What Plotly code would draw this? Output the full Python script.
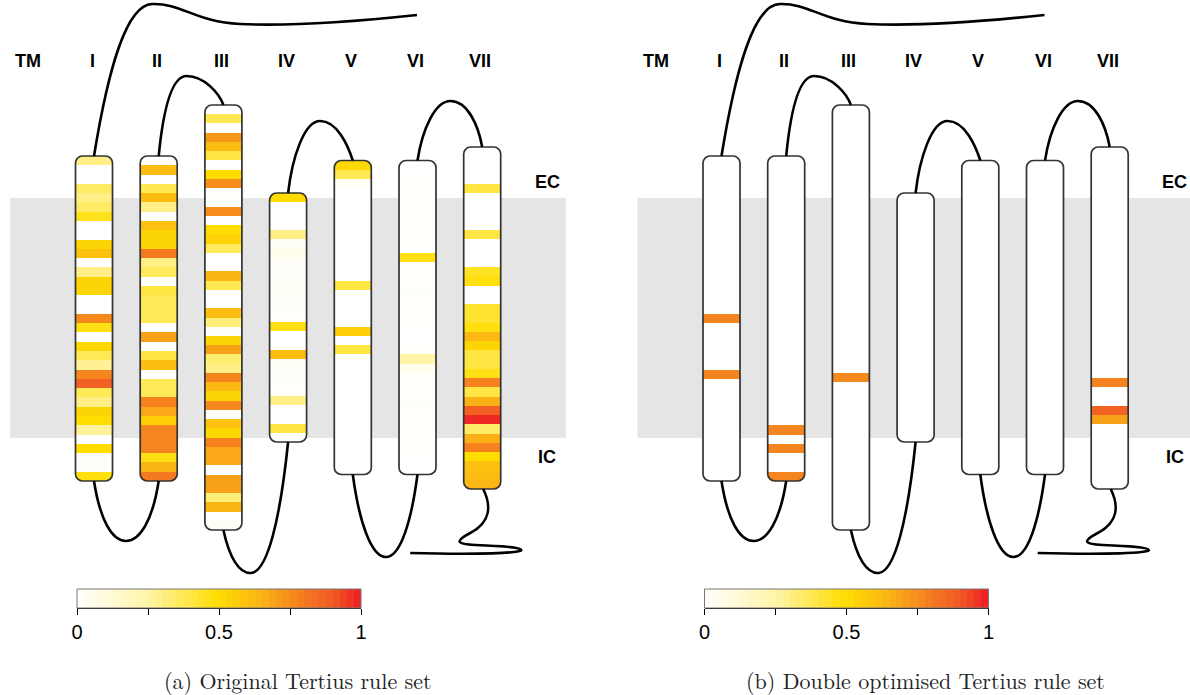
import numpy as np
import plotly.graph_objects as go

# ---------------- data ----------------
helix_names = ["I", "II", "III", "IV", "V", "VI", "VII"]

# (a) Original Tertius rule set: per-residue values, top to bottom
orig_I = [0.30, 0, 0, 0.35, 0.30, 0.35, 0.46, 0, 0, 0.53, 0.60, 0, 0.30, 0.53, 0.53, 0, 0,
          0.76, 0.47, 0, 0.52, 0.37, 0.28, 0.77, 0.88, 0.37, 0.30, 0.53, 0.50, 0.27, 0, 0.50,
          0.02, 0.02, 0.48]
orig_II = [0, 0.62, 0, 0.38, 0.62, 0.30, 0, 0.60, 0.53, 0.53, 0.80, 0.30, 0.36, 0, 0.40, 0.37,
           0.37, 0.37, 0, 0.70, 0, 0.40, 0.62, 0, 0.37, 0.37, 0.78, 0.68, 0.55, 0.77, 0.77, 0.77,
           0.47, 0.65, 0.80]
orig_III = [0, 0.38, 0, 0.72, 0.62, 0.40, 0, 0.50, 0.75, 0.01, 0.01, 0.75, 0, 0.50, 0.54, 0.36,
            0, 0, 0.65, 0.38, 0, 0, 0.62, 0.32, 0.02, 0.53, 0.70, 0.33, 0.30, 0.77, 0.63, 0.53,
            0.76, 0.02, 0.60, 0.52, 0.78, 0.68, 0.68, 0, 0.70, 0.70, 0.32, 0.65, 0, 0.03]
orig_IV = [0.50, 0, 0, 0, 0.30, 0.03, 0.05, 0.02, 0.02, 0.02, 0.03, 0.02, 0.02, 0.01, 0.47, 0,
           0, 0.62, 0.03, 0.02, 0.02, 0.01, 0.30, 0, 0, 0.40, 0]
orig_V = [0.52, 0.38, 0.02, 0, 0, 0, 0, 0, 0, 0, 0, 0, 0, 0.40, 0, 0, 0, 0, 0.55, 0, 0.40,
          0, 0, 0, 0, 0, 0, 0, 0, 0, 0, 0, 0, 0]
orig_VI = [0, 0, 0.01, 0.01, 0.01, 0.01, 0.01, 0.01, 0.01, 0.01, 0.47, 0.01, 0.01, 0.01, 0.02,
           0.01, 0.01, 0.01, 0, 0, 0.01, 0.25, 0.05, 0.01, 0.01, 0.01, 0.02, 0.01, 0.01, 0.01,
           0.01, 0.01, 0, 0]
orig_VII = [0, 0, 0, 0, 0.40, 0, 0, 0, 0, 0.40, 0, 0, 0, 0.45, 0.48, 0, 0, 0.43, 0.43, 0.48,
            0.63, 0.53, 0.40, 0.40, 0.47, 0.78, 0.40, 0.66, 0.88, 0.98, 0.35, 0.66, 0.78, 0.50,
            0.60, 0.62, 0.64]

# (b) Double optimised Tertius rule set
opt_I = [0]*17 + [0.77] + [0]*5 + [0.77] + [0]*11
opt_II = [0]*29 + [0.77, 0, 0.77, 0, 0, 0.77]
opt_III = [0]*29 + [0.76] + [0]*16
opt_IV = [0]*27
opt_V = [0]*34
opt_VI = [0]*34
opt_VII = [0]*25 + [0.78, 0, 0, 0.87, 0.70] + [0]*7

panel_a = [orig_I, orig_II, orig_III, orig_IV, orig_V, orig_VI, orig_VII]
panel_b = [opt_I, opt_II, opt_III, opt_IV, opt_V, opt_VI, opt_VII]
panel_titles = ["(a) Original Tertius rule set", "(b) Double optimised Tertius rule set"]
cbar_ticks = [0, 0.25, 0.5, 0.75, 1]
cbar_ticktext = ["0", "", "0.5", "", "1"]

# ---------------- layout geometry (pixels) ----------------
W, H = 1190, 695
centers = [94, 158.7, 223.4, 288.1, 352.8, 417.5, 482.2]
tops = [156, 156, 105, 193, 160.5, 160.5, 147]
bottoms = [481, 481, 530, 442, 474.5, 474.5, 489]
hw = 18.5
rad = 7
dx_b = 627.5

colorscale = [[0.0, "#FFFFFF"], [0.25, "#FFF4A8"], [0.5, "#FFDD00"], [0.65, "#FBB416"],
              [0.8, "#F47920"], [0.9, "#F15A24"], [1.0, "#ED1C24"]]

fig = go.Figure()
shapes = []
annotations = []
sans = "Liberation Sans, Arial, sans-serif"
lab_size = 18


def rrect(x0, y0, x1, y1, r):
    k = 0.4477 * r
    return (f"M {x0+r},{y0} L {x1-r},{y0} C {x1-k},{y0} {x1},{y0+k} {x1},{y0+r} "
            f"L {x1},{y1-r} C {x1},{y1-k} {x1-k},{y1} {x1-r},{y1} "
            f"L {x0+r},{y1} C {x0+k},{y1} {x0},{y1-k} {x0},{y1-r} "
            f"L {x0},{y0+r} C {x0},{y0+k} {x0+k},{y0} {x0+r},{y0} Z")


def corner_masks(x0, y0, x1, y1, r):
    k = 0.4477 * r
    return [
        f"M {x0-1},{y0-1} L {x0+r},{y0-1} L {x0+r},{y0} C {x0+k},{y0} {x0},{y0+k} {x0},{y0+r} L {x0-1},{y0+r} Z",
        f"M {x1+1},{y0-1} L {x1-r},{y0-1} L {x1-r},{y0} C {x1-k},{y0} {x1},{y0+k} {x1},{y0+r} L {x1+1},{y0+r} Z",
        f"M {x0-1},{y1+1} L {x0+r},{y1+1} L {x0+r},{y1} C {x0+k},{y1} {x0},{y1-k} {x0},{y1-r} L {x0-1},{y1-r} Z",
        f"M {x1+1},{y1+1} L {x1-r},{y1+1} L {x1-r},{y1} C {x1-k},{y1} {x1},{y1-k} {x1},{y1-r} L {x1+1},{y1-r} Z",
    ]


def loops(d):
    c = centers
    t = tops
    b = bottoms
    p = []
    # N-terminus
    p.append(f"M {c[0]+d},{t[0]} C {c[0]+14+d},70 {c[0]+32+d},5 {c[0]+58+d},4 "
             f"C {c[0]+88+d},3 {c[0]+101+d},22 {c[0]+146+d},24 C {c[0]+206+d},27 {c[0]+276+d},20 {c[0]+323+d},15")
    # I-II (bottom)
    p.append(f"M {c[0]+d},{b[0]} C {c[0]+6+d},520 {c[0]+18+d},541 {c[0]+32+d},541 "
             f"C {c[0]+46+d},541 {c[1]-6+d},520 {c[1]+d},{b[1]}")
    # II-III (top)
    p.append(f"M {c[1]+d},{t[1]} C {c[1]+4+d},115 {c[1]+12+d},76 {c[1]+28+d},76 "
             f"C {c[1]+46+d},76 {c[2]-4+d},94 {c[2]+d},{t[2]}")
    # III-IV (bottom)
    p.append(f"M {c[2]+d},{b[2]} C {c[2]+6+d},558 {c[2]+16+d},574 {c[2]+28+d},573 "
             f"C {c[2]+44+d},571 {c[3]-8+d},520 {c[3]+d},{b[3]}")
    # IV-V (top)
    p.append(f"M {c[3]+d},{t[3]} C {c[3]+4+d},158 {c[3]+16+d},121 {c[3]+32+d},121 "
             f"C {c[3]+49+d},121 {c[4]-5+d},145 {c[4]+d},{t[4]}")
    # V-VI (bottom)
    p.append(f"M {c[4]+d},{b[4]} C {c[4]+6+d},520 {c[4]+18+d},557 {c[4]+33+d},557 "
             f"C {c[4]+48+d},557 {c[5]-6+d},520 {c[5]+d},{b[5]}")
    # VI-VII (top)
    p.append(f"M {c[5]+d},{t[5]} C {c[5]+5+d},128 {c[5]+18+d},101 {c[5]+33+d},101 "
             f"C {c[5]+50+d},101 {c[6]-4+d},125 {c[6]+d},{t[6]}")
    # C-terminus
    p.append(f"M {c[6]+1+d},{b[6]} C {c[6]+9+d},505 {c[6]+9+d},522 {c[6]-12+d},533 "
             f"C {c[6]-27+d},541 {c[6]-27+d},544 {c[6]-7+d},545 "
             f"C {c[6]+18+d},546 {c[6]+38+d},547 {c[6]+39+d},550 "
             f"C {c[6]+40+d},553 {c[6]-2+d},555 {c[6]-72+d},553")
    return p


for pi, (panel, d) in enumerate([(panel_a, 0.0), (panel_b, dx_b)]):
    # membrane band
    shapes.append(dict(type="rect", xref="x", yref="y", x0=10 + d, x1=566 + d, y0=198, y1=438,
                       fillcolor="#E5E5E5", line=dict(width=0), layer="below"))
    for i, vals in enumerate(panel):
        x0, x1 = centers[i] - hw + d, centers[i] + hw + d
        y0, y1 = tops[i], bottoms[i]
        n = len(vals)
        edges = np.linspace(y0, y1, n + 1)
        fig.add_trace(go.Heatmap(
            x=[x0, x1], y=edges, z=[[v] for v in vals],
            coloraxis="coloraxis", hoverinfo="skip", xaxis="x", yaxis="y"))
        for m in corner_masks(x0, y0, x1, y1, rad):
            shapes.append(dict(type="path", xref="x", yref="y", path=m, fillcolor="white",
                               line=dict(width=0), layer="above"))
        shapes.append(dict(type="path", xref="x", yref="y", path=rrect(x0, y0, x1, y1, rad),
                           line=dict(color="#333333", width=1.7), layer="above"))
    for p in loops(d):
        shapes.append(dict(type="path", xref="x", yref="y", path=p,
                           line=dict(color="black", width=2.6), layer="above"))
    # labels
    annotations.append(dict(x=28 + d, y=61, xref="x", yref="y", text="<b>TM</b>", showarrow=False,
                            font=dict(family=sans, size=lab_size, color="black")))
    for i, nm in enumerate(helix_names):
        annotations.append(dict(x=centers[i] - 2 + d, y=61, xref="x", yref="y", text=f"<b>{nm}</b>",
                                showarrow=False, font=dict(family=sans, size=lab_size, color="black")))
    annotations.append(dict(x=547 + d, y=182, xref="x", yref="y", text="<b>EC</b>", showarrow=False,
                            font=dict(family=sans, size=lab_size, color="black")))
    annotations.append(dict(x=547 + d, y=457, xref="x", yref="y", text="<b>IC</b>", showarrow=False,
                            font=dict(family=sans, size=lab_size, color="black")))
    annotations.append(dict(x=298 + d, y=679, xref="x", yref="y", text=panel_titles[pi], showarrow=False,
                            font=dict(family="Latin Modern Roman, CMU Serif, DejaVu Serif, serif", size=22,
                                      color="#222222")))

# colour bars
levels = np.linspace(0, 1, 41)
mids = (levels[:-1] + levels[1:]) / 2
for k, d in enumerate([0.0, dx_b]):
    ax = "x" + str(k + 2)
    ay = "y" + str(k + 2)
    fig.add_trace(go.Heatmap(x=levels, y=[0, 1], z=[mids], coloraxis="coloraxis",
                             hoverinfo="skip", xaxis=ax, yaxis=ay))

cb_x0, cb_x1, cb_y0, cb_y1 = 77, 361, 589, 608
layout_axes = {}
for k, d in enumerate([0.0, dx_b]):
    layout_axes[f"xaxis{k+2}"] = dict(
        domain=[(cb_x0 + d) / W, (cb_x1 + d) / W], range=[0, 1], anchor=f"y{k+2}",
        tickvals=cbar_ticks, ticktext=cbar_ticktext, ticks="outside", ticklen=6, tickwidth=1.2,
        tickcolor="black", showline=True, linecolor="black", linewidth=1.2, mirror=False,
        showgrid=False, zeroline=False, tickfont=dict(family=sans, size=20, color="black"),
        fixedrange=True, automargin=False)
    layout_axes[f"yaxis{k+2}"] = dict(
        domain=[1 - cb_y1 / H, 1 - cb_y0 / H], range=[0, 1], anchor=f"x{k+2}",
        showticklabels=False, ticks="", showgrid=False, zeroline=False, fixedrange=True,
        showline=False, automargin=False)
    # thin frame around the bar
    shapes.append(dict(type="rect", xref="paper", yref="paper",
                       x0=(cb_x0 + d) / W, x1=(cb_x1 + d) / W,
                       y0=1 - cb_y1 / H, y1=1 - cb_y0 / H,
                       line=dict(color="#777777", width=1), layer="above"))

fig.update_layout(
    width=W, height=H, margin=dict(l=0, r=0, t=0, b=0, pad=0), autosize=False,
    paper_bgcolor="white", plot_bgcolor="rgba(0,0,0,0)", showlegend=False,
    xaxis=dict(domain=[0, 1], range=[0, W], visible=False, fixedrange=True),
    yaxis=dict(domain=[0, 1], range=[H, 0], visible=False, fixedrange=True),
    coloraxis=dict(colorscale=colorscale, cmin=0, cmax=1, showscale=False),
    shapes=shapes, annotations=annotations, **layout_axes)

fig.write_html("out.html", config={"displayModeBar": False},
               post_script="document.body.style.margin='0px';document.body.style.overflow='hidden';")
